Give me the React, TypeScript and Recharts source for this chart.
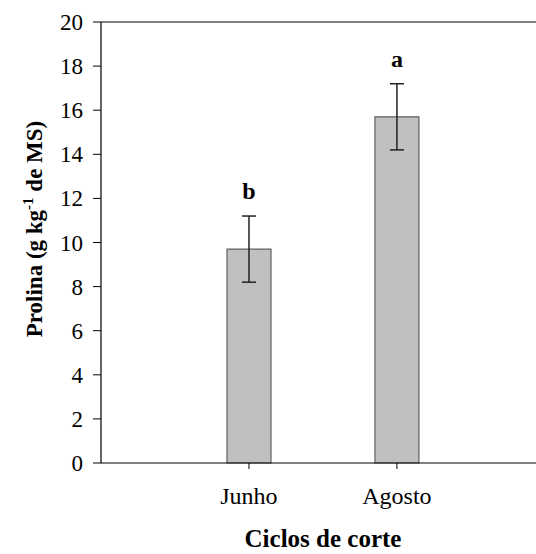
import React from "react";
import { ComposedChart, Bar, XAxis, YAxis, ErrorBar, ReferenceLine, LabelList } from "recharts";

const categories = ["Junho", "Agosto"];
const positions = [1, 2];
const means = [9.7, 15.7];
const errors = [1.5, 1.5];
const letters = ["b", "a"];
const yTicks = [0, 2, 4, 6, 8, 10, 12, 14, 16, 18, 20];

const data = categories.map((c, i) => ({
  pos: positions[i],
  name: c,
  mean: means[i],
  err: errors[i],
  letter: letters[i],
}));

const FONT = "'Liberation Serif', 'Times New Roman', serif";
const txt = (size: number, bold = false): React.CSSProperties => ({
  fontFamily: FONT,
  fontSize: size,
  fontWeight: bold ? "bold" : "normal",
  fill: "#000",
});

const renderXTick = (props: any) => {
  const { x, y, payload } = props;
  const idx = positions.indexOf(payload.value);
  return (
    <g key={`xt-${payload.value}`}>
      <text x={x} y={y + 33} textAnchor="middle" style={txt(24)}>
        {idx >= 0 ? categories[idx] : ""}
      </text>
    </g>
  );
};

const renderYTick = (props: any) => {
  const { x, y, payload } = props;
  return (
    <g key={`yt-${payload.value}`}>
      <text x={x - 6} y={y + 8} textAnchor="end" style={txt(23)}>
        {payload.value}
      </text>
    </g>
  );
};

const YLabel = () => (
  <text transform="translate(42, 229) rotate(-90)" textAnchor="middle" style={txt(23, true)}>
    <tspan>Prolina (g kg</tspan>
    <tspan dy={-9} style={{ fontSize: 15 }}>-1</tspan>
    <tspan dy={9}> de MS)</tspan>
  </text>
);

const XLabel = () => (
  <text x={323} y={547} textAnchor="middle" style={txt(25, true)}>
    Ciclos de corte
  </text>
);

const LetterLabel = (props: any) => {
  const { x, y, width, index } = props;
  const d = data[index];
  const cx = x + width / 2;
  const scalePerUnit = 441 / 20;
  const capY = y - d.err * scalePerUnit;
  return (
    <text x={cx} y={capY - 17} textAnchor="middle" style={txt(24, true)}>
      {d.letter}
    </text>
  );
};

export default function App() {
  return (
    <div style={{ position: "absolute", left: 0, top: 0, width: 536, height: 554, background: "#fff" }}>
      <ComposedChart
        width={536}
        height={554}
        data={data}
        margin={{ top: 22, right: 0, bottom: 0, left: 0 }}
      >
        <XAxis
          dataKey="pos"
          type="number"
          domain={[0, 2.94]}
          ticks={positions}
          height={91}
          axisLine={{ stroke: "#000", strokeWidth: 1.2 }}
          tickLine={{ stroke: "#000", strokeWidth: 1 }}
          tickSize={6}
          tick={renderXTick}
          interval={0}
          allowDataOverflow
          label={<XLabel />}
        />
        <YAxis
          type="number"
          domain={[0, 20]}
          ticks={yTicks}
          width={101}
          axisLine={{ stroke: "#000", strokeWidth: 1.2 }}
          tickLine={{ stroke: "#000", strokeWidth: 1 }}
          tickSize={8}
          tickMargin={4}
          tick={renderYTick}
          interval={0}
          label={<YLabel />}
        />
        <ReferenceLine y={20} stroke="#000" strokeWidth={1.2} />
        <Bar dataKey="mean" barSize={44} fill="#c0c0c0" stroke="#606060" strokeWidth={1.2} isAnimationActive={false}>
          <ErrorBar dataKey="err" width={7} stroke="#222" strokeWidth={1.5} direction="y" />
          <LabelList dataKey="letter" content={<LetterLabel />} />
        </Bar>
      </ComposedChart>
    </div>
  );
}
